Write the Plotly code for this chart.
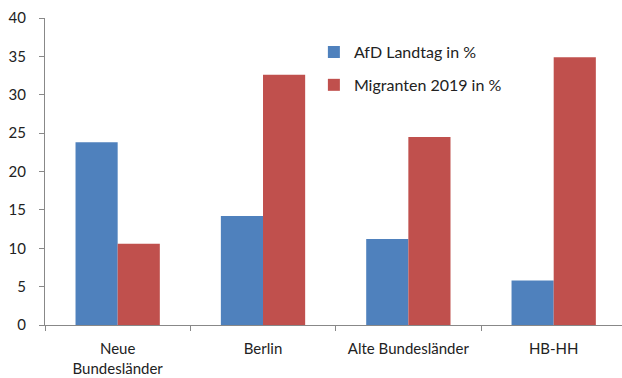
import plotly.graph_objects as go

categories = ["Neue<br>Bundesländer", "Berlin", "Alte Bundesländer", "HB-HH"]
afd_landtag = [23.8, 14.2, 11.2, 5.8]
migranten_2019 = [10.6, 32.6, 24.5, 34.9]
y_ticks = [0, 5, 10, 15, 20, 25, 30, 35, 40]

font_family = "Lato, Open Sans, sans-serif"
axis_color = "#888888"
text_color = "#222222"

fig = go.Figure()
fig.add_trace(go.Bar(x=categories, y=afd_landtag, name="AfD Landtag in %",
                     marker=dict(color="#4F81BD", line=dict(width=0)), legend="legend"))
fig.add_trace(go.Bar(x=categories, y=migranten_2019, name="Migranten 2019 in %",
                     marker=dict(color="#C0504D", line=dict(width=0)), legend="legend2"))

fig.update_layout(
    width=622, height=378,
    margin=dict(l=45, r=0, t=18, b=53),
    paper_bgcolor="white", plot_bgcolor="white",
    barmode="group", bargap=0.42, bargroupgap=0,
    showlegend=True,
    font=dict(family=font_family, size=15, color=text_color),
    legend=dict(x=0.466, y=0.889, xanchor="left", yanchor="middle",
                bgcolor="rgba(0,0,0,0)", itemwidth=30, visible=True,
                font=dict(family=font_family, size=16, color=text_color)),
    legend2=dict(x=0.466, y=0.782, xanchor="left", yanchor="middle",
                 bgcolor="rgba(0,0,0,0)", itemwidth=30, visible=True,
                 font=dict(family=font_family, size=16, color=text_color)),
)
fig.update_xaxes(
    range=[-0.5, 3.47], showline=True, linecolor=axis_color, linewidth=1,
    ticks="outside", tickson="boundaries", ticklen=5, tickcolor=axis_color,
    showgrid=False, tickfont=dict(size=15), ticklabelstandoff=10,
)
fig.update_yaxes(
    range=[0, 40], tickvals=y_ticks, showline=True, linecolor=axis_color, linewidth=1,
    ticks="outside", ticklen=5, tickcolor=axis_color, showgrid=False, zeroline=False,
    tickfont=dict(size=15), ticklabelstandoff=10,
)

fig.write_html("out.html")
